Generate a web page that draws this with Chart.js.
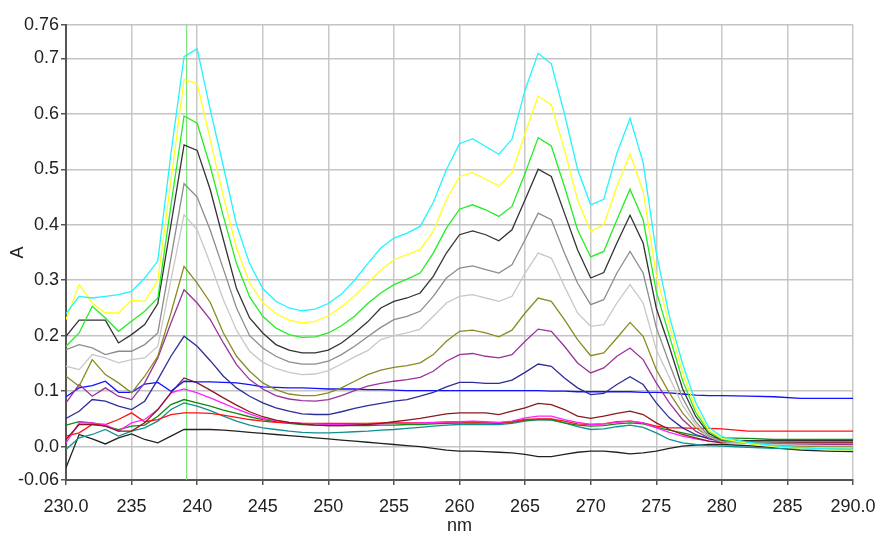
<!DOCTYPE html>
<html>
<head>
<meta charset="utf-8">
<script src="https://cdn.jsdelivr.net/npm/chart.js@4.4.1/dist/chart.umd.min.js"></script>
<style>
  body { margin: 0; background: #fff; }
  #wrap { width: 880px; height: 537px; }
</style>
</head>
<body>
<div id="wrap"><canvas id="spectra" width="880" height="537"></canvas></div>
<script>
// wavelengths in nm (1 nm steps up to 280, then 2 nm)
const wavelengths = [230,231,232,233,234,235,236,237,238,239,240,
  241,242,243,244,245,246,247,248,249,250,251,252,253,254,255,256,257,258,259,260,
  261,262,263,264,265,266,267,268,269,270,271,272,273,274,275,276,277,278,279,280,
  282,284,286,288,290];

// absorbance per spectrum
const cyanA = [0.240,0.271,0.268,0.271,0.274,0.280,0.304,0.335,0.528,0.703,0.717,
  0.607,0.505,0.400,0.330,0.285,0.262,0.250,0.245,0.248,0.258,0.275,0.300,0.330,0.358,0.376,0.385,0.397,0.440,0.499,0.546,
  0.555,0.541,0.527,0.554,0.643,0.709,0.690,0.600,0.500,0.436,0.446,0.529,0.592,0.512,0.350,0.235,0.150,0.080,0.035,0.018,
  0.008,0.002,-0.002,-0.004,-0.005];
const yellowA = [0.229,0.292,0.259,0.241,0.241,0.264,0.262,0.300,0.480,0.662,0.654,
  0.553,0.451,0.358,0.295,0.260,0.240,0.228,0.223,0.226,0.236,0.252,0.272,0.295,0.318,0.337,0.346,0.355,0.388,0.445,0.487,
  0.494,0.482,0.470,0.494,0.565,0.632,0.616,0.535,0.445,0.388,0.400,0.469,0.528,0.460,0.310,0.220,0.135,0.070,0.030,0.015,
  0.006,0.000,-0.003,-0.005,-0.006];
const greenA = [0.181,0.205,0.253,0.232,0.208,0.226,0.244,0.268,0.435,0.596,0.583,
  0.505,0.415,0.330,0.270,0.235,0.214,0.202,0.197,0.198,0.205,0.218,0.235,0.258,0.277,0.292,0.302,0.313,0.349,0.394,0.428,
  0.436,0.427,0.415,0.433,0.493,0.557,0.542,0.469,0.391,0.342,0.352,0.409,0.464,0.409,0.280,0.200,0.120,0.062,0.027,0.013,
  0.006,0.001,-0.002,-0.004,-0.005];
const blackA = [0.199,0.228,0.228,0.228,0.187,0.202,0.220,0.258,0.400,0.544,0.534,
  0.463,0.373,0.285,0.232,0.205,0.184,0.174,0.169,0.169,0.174,0.187,0.205,0.225,0.250,0.262,0.268,0.277,0.307,0.349,0.382,
  0.389,0.382,0.371,0.391,0.445,0.500,0.487,0.421,0.355,0.304,0.314,0.367,0.417,0.367,0.250,0.180,0.105,0.055,0.024,0.012,
  0.011,0.011,0.011,0.011,0.011];
const grayA = [0.175,0.184,0.178,0.166,0.172,0.172,0.184,0.205,0.340,0.474,0.450,
  0.390,0.320,0.250,0.200,0.178,0.163,0.153,0.149,0.149,0.154,0.166,0.181,0.198,0.215,0.229,0.235,0.244,0.271,0.304,0.322,
  0.326,0.319,0.313,0.328,0.373,0.421,0.409,0.349,0.295,0.256,0.265,0.313,0.352,0.313,0.215,0.150,0.088,0.045,0.020,0.010,
  0.008,0.007,0.006,0.006,0.006];
const lightGrayA = [0.145,0.139,0.166,0.160,0.151,0.157,0.160,0.181,0.300,0.418,0.391,
  0.330,0.265,0.210,0.172,0.152,0.141,0.134,0.130,0.131,0.137,0.149,0.162,0.173,0.193,0.200,0.205,0.212,0.235,0.259,0.271,
  0.274,0.268,0.262,0.271,0.313,0.349,0.340,0.289,0.241,0.217,0.220,0.259,0.292,0.259,0.175,0.125,0.075,0.040,0.018,0.009,
  0.006,0.004,0.003,0.002,0.002];
const oliveA = [0.127,0.109,0.157,0.130,0.115,0.097,0.127,0.163,0.241,0.325,0.295,
  0.260,0.205,0.163,0.136,0.115,0.103,0.095,0.092,0.092,0.097,0.106,0.118,0.130,0.138,0.143,0.146,0.151,0.166,0.190,0.208,
  0.210,0.205,0.198,0.210,0.241,0.268,0.262,0.229,0.193,0.164,0.169,0.196,0.224,0.199,0.139,0.097,0.061,0.034,0.019,0.010,
  0.006,0.003,0.001,0.000,0.000];
const purpleA = [0.079,0.112,0.091,0.106,0.091,0.085,0.115,0.160,0.223,0.283,0.259,
  0.229,0.187,0.148,0.121,0.104,0.092,0.086,0.083,0.082,0.085,0.092,0.101,0.109,0.114,0.118,0.121,0.125,0.136,0.154,0.166,
  0.168,0.163,0.160,0.166,0.190,0.212,0.208,0.181,0.151,0.133,0.142,0.163,0.178,0.157,0.115,0.079,0.049,0.028,0.016,0.010,
  0.007,0.005,0.004,0.004,0.004];
const navyA = [0.051,0.064,0.085,0.082,0.073,0.067,0.082,0.121,0.163,0.199,0.181,
  0.155,0.127,0.106,0.091,0.079,0.070,0.064,0.059,0.058,0.058,0.063,0.069,0.074,0.078,0.082,0.085,0.091,0.098,0.108,0.116,
  0.116,0.114,0.114,0.120,0.134,0.149,0.145,0.124,0.106,0.094,0.096,0.112,0.126,0.112,0.079,0.052,0.034,0.022,0.014,0.010,
  0.008,0.006,0.005,0.004,0.004];
const blueA = [0.090,0.106,0.110,0.118,0.098,0.098,0.113,0.116,0.100,0.118,0.117,
  0.117,0.116,0.115,0.112,0.108,0.107,0.106,0.106,0.105,0.104,0.104,0.104,0.103,0.103,0.102,0.101,0.101,0.101,0.101,0.101,
  0.101,0.101,0.101,0.101,0.101,0.101,0.100,0.100,0.099,0.099,0.099,0.099,0.099,0.098,0.098,0.097,0.095,0.093,0.092,0.092,
  0.091,0.090,0.087,0.087,0.087];
const maroonA = [0.013,0.040,0.040,0.037,0.028,0.028,0.043,0.067,0.097,0.124,0.115,
  0.102,0.088,0.075,0.063,0.054,0.048,0.044,0.041,0.039,0.038,0.038,0.039,0.040,0.042,0.045,0.048,0.051,0.055,0.059,0.061,
  0.061,0.061,0.058,0.064,0.070,0.078,0.076,0.067,0.055,0.051,0.055,0.060,0.064,0.058,0.043,0.031,0.022,0.016,0.010,0.007,
  0.008,0.008,0.008,0.008,0.008];
const magentaA = [0.007,0.043,0.043,0.040,0.028,0.043,0.049,0.067,0.097,0.104,0.097,
  0.088,0.078,0.068,0.059,0.051,0.047,0.044,0.042,0.041,0.040,0.040,0.040,0.041,0.041,0.042,0.042,0.043,0.044,0.045,0.045,
  0.046,0.045,0.044,0.046,0.052,0.055,0.055,0.049,0.044,0.040,0.041,0.044,0.046,0.043,0.034,0.026,0.019,0.014,0.010,0.009,
  0.008,0.007,0.006,0.006,0.006];
const redA = [0.019,0.025,0.040,0.040,0.049,0.061,0.045,0.049,0.058,0.061,0.061,
  0.060,0.057,0.053,0.049,0.046,0.044,0.043,0.042,0.042,0.042,0.042,0.042,0.042,0.043,0.043,0.043,0.043,0.043,0.043,0.043,
  0.043,0.043,0.043,0.045,0.049,0.050,0.050,0.046,0.041,0.040,0.041,0.045,0.046,0.043,0.037,0.034,0.034,0.033,0.033,0.032,
  0.028,0.028,0.028,0.028,0.028];
const darkGreenA = [0.039,0.045,0.043,0.037,0.031,0.037,0.039,0.055,0.076,0.085,0.079,
  0.073,0.066,0.060,0.054,0.049,0.045,0.042,0.040,0.039,0.038,0.038,0.038,0.038,0.039,0.039,0.040,0.040,0.041,0.042,0.043,
  0.043,0.043,0.042,0.044,0.048,0.049,0.049,0.043,0.039,0.037,0.038,0.041,0.043,0.041,0.035,0.030,0.025,0.020,0.016,0.016,
  0.015,0.013,0.013,0.013,0.013];
const tealA = [-0.005,0.016,0.022,0.031,0.019,0.028,0.034,0.046,0.067,0.079,0.073,
  0.065,0.055,0.046,0.039,0.034,0.031,0.028,0.026,0.025,0.025,0.026,0.027,0.028,0.030,0.031,0.033,0.035,0.037,0.039,0.040,
  0.040,0.040,0.040,0.042,0.046,0.049,0.048,0.043,0.036,0.031,0.032,0.036,0.039,0.035,0.025,0.013,0.007,0.004,0.002,0.001,
  -0.001,-0.003,-0.004,-0.005,-0.005];
const blackLowA = [-0.038,0.022,0.014,0.005,0.016,0.023,0.013,0.007,0.019,0.031,0.031,
  0.031,0.030,0.028,0.026,0.024,0.022,0.020,0.018,0.016,0.014,0.012,0.010,0.008,0.006,0.004,0.002,0.000,-0.003,-0.006,-0.008,
  -0.008,-0.009,-0.010,-0.011,-0.014,-0.018,-0.018,-0.014,-0.010,-0.008,-0.008,-0.010,-0.013,-0.011,-0.008,-0.003,0.001,0.003,0.004,0.004,
  0.002,-0.002,-0.006,-0.008,-0.009];

// axis ticks
const xTicks = [230,235,240,245,250,255,260,265,270,275,280,285,290];
const xTickLabels = ['230.0','235','240','245','250','255','260','265','270','275','280','285','290.0'];
const yTicks = [-0.06,0,0.1,0.2,0.3,0.4,0.5,0.6,0.7,0.76];
const yTickLabels = ['-0.06','0.0','0.1','0.2','0.3','0.4','0.5','0.6','0.7','0.76'];
const cursorNm = 239.2;

const series = [
  [cyanA, '#22f4ff'],
  [yellowA, '#ffff22'],
  [greenA, '#22ee22'],
  [blackA, '#333333'],
  [grayA, '#8c8c8c'],
  [lightGrayA, '#c8c8c8'],
  [oliveA, '#8a8a22'],
  [purpleA, '#9a339a'],
  [navyA, '#2e2e99'],
  [blueA, '#1111ff'],
  [maroonA, '#8b1a1a'],
  [magentaA, '#ff22ff'],
  [redA, '#ff1111'],
  [darkGreenA, '#118811'],
  [tealA, '#119090'],
  [blackLowA, '#222222']
];

const datasets = series.map(([vals, color]) => ({
  data: wavelengths.map((nm, i) => ({ x: nm, y: vals[i] })),
  borderColor: color,
  borderWidth: 1.3,
  pointRadius: 0,
  tension: 0,
  fill: false
}));

// green cursor line
datasets.push({
  data: [{ x: cursorNm, y: yTicks[0] }, { x: cursorNm, y: yTicks[yTicks.length - 1] }],
  borderColor: '#66e066',
  borderWidth: 1,
  pointRadius: 0,
  fill: false
});

const tickFont = { family: "'Liberation Sans', Arial, sans-serif", size: 18 };

const ctx = document.getElementById('spectra').getContext('2d');
new Chart(ctx, {
  type: 'line',
  data: { datasets },
  options: {
    responsive: false,
    animation: false,
    layout: { padding: { left: 0, right: 27, top: 25, bottom: 0 } },
    plugins: { legend: { display: false }, tooltip: { enabled: false } },
    scales: {
      x: {
        type: 'linear',
        min: 230,
        max: 290,
        afterBuildTicks: (scale) => { scale.ticks = xTicks.map(v => ({ value: v })); },
        afterFit: (scale) => {
          scale.height = 57;
          scale.paddingLeft = 0;
          scale.paddingRight = 0;
        },
        ticks: {
          font: tickFont,
          color: '#222',
          padding: 11,
          maxRotation: 0,
          autoSkip: false,
          callback: (v) => xTickLabels[xTicks.indexOf(v)]
        },
        grid: { color: '#c8c8c8', lineWidth: 1.5, tickColor: '#555', tickLength: 5, tickWidth: 1.5 },
        border: { color: '#555', width: 2 },
        title: {
          display: true,
          text: 'nm',
          font: tickFont,
          color: '#222',
          padding: { top: 0, bottom: 0 }
        }
      },
      y: {
        type: 'linear',
        min: -0.06,
        max: 0.76,
        afterBuildTicks: (scale) => { scale.ticks = yTicks.map(v => ({ value: v })); },
        afterFit: (scale) => {
          scale.width = 66;
          scale.paddingTop = 0;
          scale.paddingBottom = 0;
        },
        ticks: {
          font: tickFont,
          color: '#222',
          padding: 2,
          autoSkip: false,
          callback: (v) => yTickLabels[yTicks.indexOf(v)]
        },
        grid: { color: '#c4c4c4', lineWidth: 1.5, tickColor: '#555', tickLength: 5, tickWidth: 1.5 },
        border: { color: '#555', width: 2 },
        title: {
          display: true,
          text: 'A',
          font: tickFont,
          color: '#222',
          padding: { top: 7, bottom: 0 }
        }
      }
    }
  }
});
</script>
</body>
</html>
